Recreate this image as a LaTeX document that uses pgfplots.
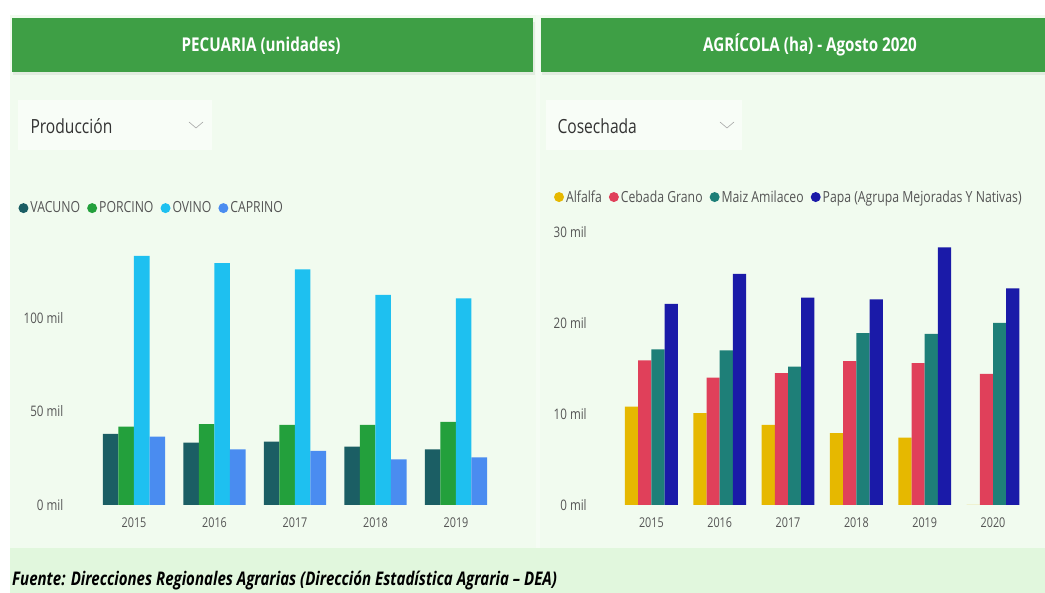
\documentclass[border=0pt]{standalone}
\usepackage{pgfplots}
\pgfplotsset{compat=1.18}
\usepackage{fontspec}
\setmainfont{Open Sans}[FakeStretch=0.8]
\definecolor{panelbg}{HTML}{F1FBEF}
\definecolor{footbg}{HTML}{E1F7DD}
\definecolor{hdr}{HTML}{3E9F45}
\definecolor{txtdark}{HTML}{333333}
\definecolor{tickgray}{HTML}{555555}
\definecolor{vacuno}{HTML}{1B5E64}
\definecolor{porcino}{HTML}{23A03C}
\definecolor{ovino}{HTML}{1EC0F0}
\definecolor{caprino}{HTML}{4A8CF0}
\definecolor{alfalfa}{HTML}{E6B800}
\definecolor{cebada}{HTML}{E0405A}
\definecolor{maiz}{HTML}{1E7F78}
\definecolor{papa}{HTML}{1A1AA8}
\pgfplotsset{
  mybars/.style={
    scale only axis, ybar=0pt, ymin=0, scaled y ticks=false,
    axis line style={draw=none}, major tick length=0pt,
    tick label style={text=tickgray},
    yticklabel style={anchor=east, xshift=-27pt, font=\fontsize{14.5}{16}\selectfont},
    xticklabel style={yshift=-9pt, font=\fontsize{13.5}{15}\selectfont},
    legend columns=-1,
    legend style={draw=none, fill=none, font=\fontsize{15.3}{16}\selectfont, text=tickgray,
      /tikz/every even column/.append style={column sep=5pt},
      /tikz/inner sep=1pt},
    legend image code/.code={\fill[##1, draw=none] (3pt,0pt) circle (5pt);},
  }
}
\begin{document}
\begin{tikzpicture}[x=1pt,y=1pt]
\fill[white] (0,0) rectangle (1045,593);
\fill[panelbg] (10,0) rectangle (1045,578);
\fill[white, opacity=0.35] (536,45) rectangle (540,578);
\fill[footbg] (10,0) rectangle (1045,45);
% headers
\fill[black, opacity=0.06] (13,518) rectangle (535,571);
\fill[black, opacity=0.06] (542,518) rectangle (1045,571);
\fill[hdr] (12,521) rectangle (533,575);
\fill[hdr] (541,521) rectangle (1045,575);
\node[text=white, font=\bfseries\fontsize{19}{21}\selectfont] at (261,547) {PECUARIA (unidades)};
\node[text=white, font=\bfseries\fontsize{19}{21}\selectfont] at (810,548) {AGRÍCOLA (ha) - Agosto 2020};
% dropdowns
\fill[white, opacity=0.5] (18,443) rectangle (212,493);
\fill[white, opacity=0.5] (546,443) rectangle (742,493);
\node[anchor=west, text=txtdark, font=\fontsize{19.5}{21}\selectfont] at (27,467) {Producción};
\draw[gray!70, line width=0.6pt] (189,471)--(196,465)--(203,471);
\node[anchor=west, text=txtdark, font=\fontsize{19.5}{21}\selectfont] at (554,467) {Cosechada};
\draw[gray!70, line width=0.6pt] (720,471)--(727,465)--(734,471);
% footer
\node[anchor=west, inner sep=0pt, font=\bfseries\itshape\fontsize{18.8}{20}\selectfont] at (12,12) {Fuente: Direcciones Regionales Agrarias (Dirección Estadística Agraria – DEA)};

\begin{axis}[mybars, at={(93.75pt,88pt)}, anchor=south west,
  width=402.5pt, height=261.8pt, xmin=-0.5, xmax=4.5, ymax=140000,
  bar width=15.5pt,
  xtick={0,1,2,3,4}, xticklabels={2015,2016,2017,2018,2019},
  ytick={0,50000,100000}, yticklabels={0 mil,50 mil,100 mil},
  legend style={at={(-0.19,1.134)}, anchor=west}]
\addplot[fill=vacuno, draw=none] coordinates {(0,38000) (1,33300) (2,33900) (3,31200) (4,29800)};
\addplot[fill=porcino, draw=none] coordinates {(0,41900) (1,43300) (2,42800) (3,42800) (4,44500)};
\addplot[fill=ovino, draw=none] coordinates {(0,133200) (1,129300) (2,126000) (3,112300) (4,110500)};
\addplot[fill=caprino, draw=none] coordinates {(0,36500) (1,29800) (2,28900) (3,24400) (4,25500)};
\legend{VACUNO,PORCINO,OVINO,CAPRINO}
\end{axis}

\begin{axis}[mybars, at={(617.2pt,88pt)}, anchor=south west,
  width=410pt, height=273pt, xmin=-0.5, xmax=5.5, ymax=30000,
  bar width=13.2pt,
  xtick={0,1,2,3,4,5}, xticklabels={2015,2016,2017,2018,2019,2020},
  ytick={0,10000,20000,30000}, yticklabels={0 mil,10 mil,20 mil,30 mil},
  legend style={at={(-0.157,1.128)}, anchor=west}]
\addplot[fill=alfalfa, draw=none] coordinates {(0,10800) (1,10100) (2,8800) (3,7900) (4,7400) (5,0)};
\addplot[fill=cebada, draw=none] coordinates {(0,15900) (1,14000) (2,14500) (3,15800) (4,15600) (5,14400)};
\addplot[fill=maiz, draw=none] coordinates {(0,17100) (1,17000) (2,15200) (3,18900) (4,18800) (5,20000)};
\addplot[fill=papa, draw=none] coordinates {(0,22100) (1,25400) (2,22800) (3,22600) (4,28300) (5,23800)};
\legend{Alfalfa,Cebada Grano,Maiz Amilaceo,Papa (Agrupa Mejoradas Y Nativas)}
\end{axis}
\end{tikzpicture}
\end{document}
